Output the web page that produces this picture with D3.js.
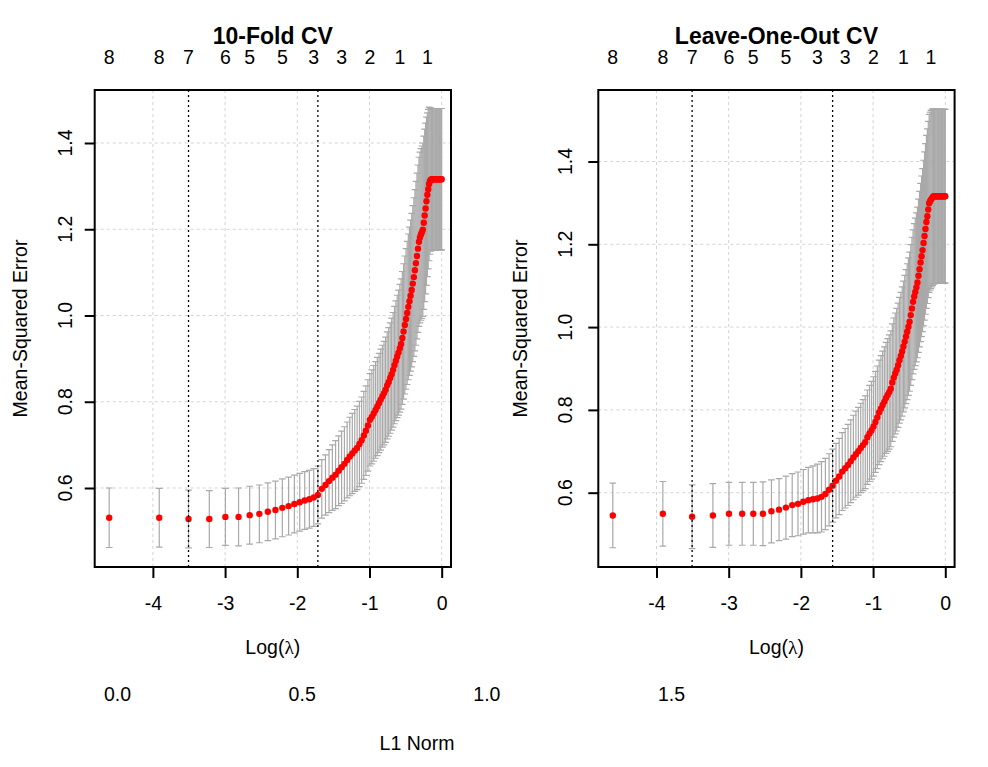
<!DOCTYPE html>
<html>
<head>
<meta charset="utf-8">
<script src="https://cdn.jsdelivr.net/npm/d3@7"></script>
<style>
  html, body { margin: 0; padding: 0; background: #ffffff; }
  svg { display: block; }
  text { font-family: "Liberation Sans", Arial, sans-serif; fill: #000; }
</style>
</head>
<body>
<svg id="chart" width="988" height="767"></svg>
<script>
// ---------------- data ----------------
const lambdas = [0.01,0.02,0.03,0.04,0.05,0.06,0.07,0.08,0.09,0.10,
  0.11,0.12,0.13,0.14,0.15,0.16,0.17,0.18,0.19,0.20,
  0.21,0.22,0.23,0.24,0.25,0.26,0.27,0.28,0.29,0.30,
  0.31,0.32,0.33,0.34,0.35,0.36,0.37,0.38,0.39,0.40,
  0.41,0.42,0.43,0.44,0.45,0.46,0.47,0.48,0.49,0.50,
  0.51,0.52,0.53,0.54,0.55,0.56,0.57,0.58,0.59,0.60,
  0.61,0.62,0.63,0.64,0.65,0.66,0.67,0.68,0.69,0.70,
  0.71,0.72,0.73,0.74,0.75,0.76,0.77,0.78,0.79,0.80,
  0.81,0.82,0.83,0.84,0.85,0.86,0.87,0.88,0.89,0.90,
  0.91,0.92,0.93,0.94,0.95,0.96,0.97,0.98,0.99,1.00];

// 10-fold CV: mean cross-validated error and its standard error
const cvmKfold = [0.531,0.531,0.528,0.528,0.533,0.533,0.537,0.540,0.545,0.549,
  0.554,0.558,0.563,0.567,0.571,0.574,0.578,0.584,0.598,0.607,
  0.616,0.624,0.631,0.640,0.648,0.656,0.665,0.673,0.680,0.687,
  0.693,0.702,0.711,0.722,0.733,0.745,0.758,0.765,0.773,0.781,
  0.789,0.797,0.805,0.813,0.820,0.828,0.838,0.846,0.855,0.864,
  0.874,0.885,0.895,0.905,0.914,0.924,0.934,0.948,0.963,0.978,
  0.992,1.006,1.020,1.033,1.046,1.059,1.074,1.089,1.105,1.121,
  1.138,1.155,1.171,1.181,1.188,1.193,1.199,1.215,1.232,1.248,
  1.265,1.280,1.293,1.305,1.312,1.315,1.316,1.316,1.316,1.316,
  1.316,1.316,1.316,1.316,1.316,1.316,1.316,1.316,1.316,1.316];
const cvsdKfold = [0.069,0.068,0.067,0.066,0.066,0.067,0.067,0.067,0.067,0.067,
  0.067,0.067,0.067,0.067,0.067,0.067,0.067,0.067,0.068,0.070,
  0.073,0.076,0.079,0.081,0.084,0.086,0.088,0.091,0.093,0.095,
  0.097,0.099,0.100,0.102,0.104,0.106,0.107,0.109,0.111,0.112,
  0.114,0.115,0.117,0.118,0.120,0.122,0.124,0.126,0.128,0.130,
  0.133,0.136,0.139,0.142,0.145,0.148,0.151,0.154,0.157,0.160,
  0.163,0.166,0.169,0.172,0.175,0.178,0.181,0.184,0.187,0.190,
  0.192,0.194,0.196,0.198,0.199,0.200,0.201,0.201,0.200,0.198,
  0.195,0.190,0.185,0.178,0.170,0.166,0.164,0.164,0.164,0.164,
  0.164,0.164,0.164,0.164,0.164,0.164,0.164,0.164,0.164,0.164];

// Leave-one-out CV
const cvmLoo = [0.545,0.549,0.542,0.545,0.549,0.549,0.549,0.549,0.555,0.559,
  0.564,0.570,0.573,0.578,0.582,0.584,0.586,0.590,0.597,0.607,
  0.617,0.629,0.639,0.651,0.659,0.667,0.676,0.685,0.693,0.700,
  0.708,0.715,0.722,0.734,0.743,0.751,0.760,0.771,0.782,0.794,
  0.803,0.812,0.820,0.829,0.836,0.843,0.851,0.866,0.878,0.888,
  0.897,0.908,0.920,0.930,0.941,0.953,0.965,0.977,0.989,1.001,
  1.013,1.029,1.045,1.061,1.074,1.085,1.096,1.108,1.124,1.140,
  1.156,1.171,1.186,1.203,1.220,1.237,1.254,1.268,1.284,1.299,
  1.304,1.308,1.311,1.314,1.316,1.316,1.316,1.316,1.316,1.316,
  1.316,1.316,1.316,1.316,1.316,1.316,1.316,1.316,1.316,1.316];
const cvsdLoo = [0.078,0.078,0.077,0.077,0.076,0.076,0.076,0.077,0.076,0.075,
  0.076,0.076,0.077,0.078,0.079,0.081,0.083,0.085,0.086,0.087,
  0.088,0.090,0.092,0.094,0.096,0.098,0.100,0.102,0.104,0.106,
  0.108,0.110,0.112,0.114,0.116,0.118,0.120,0.122,0.124,0.126,
  0.128,0.130,0.132,0.134,0.136,0.138,0.140,0.142,0.144,0.146,
  0.148,0.150,0.152,0.154,0.156,0.158,0.160,0.162,0.164,0.166,
  0.168,0.170,0.172,0.174,0.176,0.178,0.180,0.182,0.185,0.188,
  0.191,0.194,0.197,0.200,0.203,0.206,0.209,0.211,0.213,0.215,
  0.215,0.215,0.214,0.213,0.212,0.211,0.210,0.210,0.210,0.210,
  0.210,0.210,0.210,0.210,0.210,0.210,0.210,0.210,0.210,0.210];

const lambdaMinKfold = 0.03, lambda1seKfold = 0.18;
const lambdaMinLoo = 0.03, lambda1seLoo = 0.21;

// top axis: number of non-zero coefficients (labels kept after overlap removal)
const topLambdas = [0.01,0.02,0.03,0.05,0.07,0.11,0.17,0.25,0.37,0.56,0.82];
const topNonzero = ["8","8","7","6","5","5","3","3","2","1","1"];

const xTicks = [-4,-3,-2,-1,0];
const yTicks = [0.6,0.8,1.0,1.2,1.4];
const titles = ["10-Fold CV","Leave-One-Out CV"];

const l1Ticks = [0.0,0.5,1.0,1.5];

// ---------------- drawing ----------------
const svg = d3.select("#chart");
svg.append("rect").attr("width",988).attr("height",767).attr("fill","#fff");

const FS = 19.5;
const boxTop = 90, boxBottom = 567;

const panels = [
  {title: titles[0], cvm: cvmKfold, cvsd: cvsdKfold, lmin: lambdaMinKfold, l1se: lambda1seKfold,
   left: 94.7, right: 451, ydom: [0.4168, 1.5229], ytickX: 71.7, ylabX: 27},
  {title: titles[1], cvm: cvmLoo, cvsd: cvsdLoo, lmin: lambdaMinLoo, l1se: lambda1seLoo,
   left: 598.3, right: 954.6, ydom: [0.4205, 1.5727], ytickX: 571.7, ylabX: 527}
];

const xDomain = [-4.806, 0.129];
const capHalf = 0.01 * (Math.log(lambdas[lambdas.length-1]) - Math.log(lambdas[0]));

panels.forEach(p => {
  const x = d3.scaleLinear().domain(xDomain).range([p.left, p.right]);
  const y = d3.scaleLinear().domain(p.ydom).range([boxBottom, boxTop]);
  const g = svg.append("g");
  const cx = (p.left + p.right) / 2;

  // grid
  g.append("g").selectAll("line").data(xTicks).join("line")
    .attr("x1", d => x(d)).attr("x2", d => x(d))
    .attr("y1", boxTop).attr("y2", boxBottom)
    .attr("stroke", "#d3d3d3").attr("stroke-width", 1).attr("stroke-dasharray", "3,3");
  g.append("g").selectAll("line").data(yTicks).join("line")
    .attr("x1", p.left).attr("x2", p.right)
    .attr("y1", d => y(d)).attr("y2", d => y(d))
    .attr("stroke", "#d3d3d3").attr("stroke-width", 1).attr("stroke-dasharray", "3,3");

  const pts = lambdas.map((l, i) => ({lx: Math.log(l), m: p.cvm[i], s: p.cvsd[i]}));

  // error bars
  const eb = g.append("g").attr("stroke", "#a9a9a9").attr("stroke-width", 1.2).attr("fill", "none");
  eb.selectAll("path").data(pts).join("path")
    .attr("d", d => {
      const xx = x(d.lx), xl = x(d.lx - capHalf), xr = x(d.lx + capHalf);
      const yu = y(d.m + d.s), yl = y(d.m - d.s);
      return `M${xx},${yu}V${yl}M${xl},${yu}H${xr}M${xl},${yl}H${xr}`;
    });

  // points
  g.append("g").selectAll("circle").data(pts).join("circle")
    .attr("cx", d => x(d.lx)).attr("cy", d => y(d.m)).attr("r", 3.2).attr("fill", "red");

  // lambda.min & lambda.1se
  g.append("g").selectAll("line").data([p.lmin, p.l1se]).join("line")
    .attr("x1", d => x(Math.log(d))).attr("x2", d => x(Math.log(d)))
    .attr("y1", boxTop).attr("y2", boxBottom)
    .attr("stroke", "#000").attr("stroke-width", 1.3).attr("stroke-dasharray", "2,3");

  // box
  g.append("rect").attr("x", p.left).attr("y", boxTop)
    .attr("width", p.right - p.left).attr("height", boxBottom - boxTop)
    .attr("fill", "none").attr("stroke", "#000").attr("stroke-width", 2);

  // bottom axis
  const xa = g.append("g").attr("transform", `translate(0,${boxBottom})`)
    .call(d3.axisBottom(x).tickValues(xTicks).tickSize(11).tickPadding(18).tickFormat(d => String(d)));
  xa.select(".domain").remove();
  xa.selectAll(".tick line").attr("stroke", "#000").attr("stroke-width", 2);
  xa.selectAll(".tick text").attr("font-size", FS).attr("font-family", '"Liberation Sans", Arial, sans-serif').attr("fill", "#000");

  // left axis (ticks) + rotated labels
  const ya = g.append("g").attr("transform", `translate(${p.left},0)`)
    .call(d3.axisLeft(y).tickValues(yTicks).tickSize(10).tickFormat(""));
  ya.select(".domain").remove();
  ya.selectAll(".tick line").attr("stroke", "#000").attr("stroke-width", 2);
  g.append("g").selectAll("text").data(yTicks).join("text")
    .attr("transform", d => `translate(${p.ytickX},${y(d)}) rotate(-90)`)
    .attr("text-anchor", "middle").attr("font-size", FS)
    .text(d => d3.format(".1f")(d));

  // top labels (non-zero counts)
  g.append("g").selectAll("text").data(topLambdas).join("text")
    .attr("x", d => x(Math.log(d))).attr("y", 64)
    .attr("text-anchor", "middle").attr("font-size", FS)
    .text((d, i) => topNonzero[i]);

  // title
  g.append("text").attr("x", cx).attr("y", 44).attr("text-anchor", "middle")
    .attr("font-size", 23).attr("font-weight", "bold").text(p.title);

  // axis titles
  const xl = g.append("text").attr("x", cx).attr("y", 654).attr("text-anchor", "middle").attr("font-size", FS);
  xl.append("tspan").text("Log(");
  xl.append("tspan").attr("font-family", '"Liberation Serif", "DejaVu Serif", serif').text("λ");
  xl.append("tspan").text(")");

  g.append("text").attr("transform", `translate(${p.ylabX},${(boxTop + boxBottom) / 2}) rotate(-90)`)
    .attr("text-anchor", "middle").attr("font-size", FS).text("Mean-Squared Error");
});

// stray L1 Norm axis along the bottom
const xL1 = d3.scaleLinear().domain([0, 1.5]).range([117, 671]);
const l1 = svg.append("g").attr("transform", "translate(0,680)")
  .call(d3.axisBottom(xL1).tickValues(l1Ticks).tickSize(0).tickPadding(7).tickFormat(d3.format(".1f")));
l1.select(".domain").remove();
l1.selectAll(".tick line").remove();
l1.selectAll(".tick text").attr("font-size", FS).attr("font-family", '"Liberation Sans", Arial, sans-serif').attr("fill", "#000");
svg.append("text").attr("x", 417).attr("y", 750).attr("text-anchor", "middle").attr("font-size", FS).text("L1 Norm");
</script>
</body>
</html>
